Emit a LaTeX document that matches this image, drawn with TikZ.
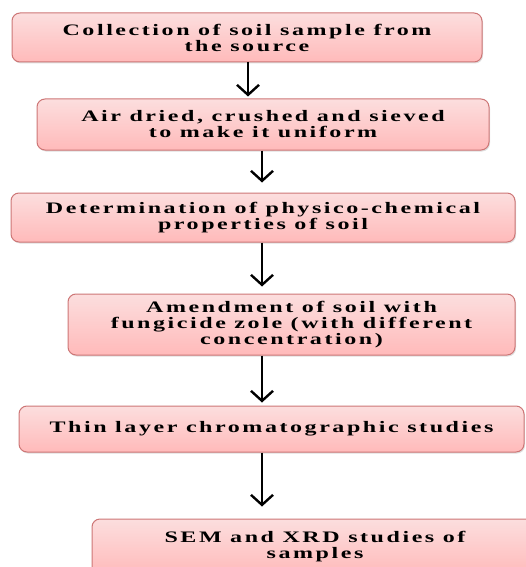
\documentclass[tikz,border=0pt]{standalone}
\usepackage{fontspec}
\setmainfont{Liberation Serif}[FakeStretch=1.5,LetterSpace=16]
\usetikzlibrary{arrows.meta,shadows}

\definecolor{boxtop}{RGB}{252,222,222}
\definecolor{boxbottom}{RGB}{255,186,186}
\definecolor{boxborder}{RGB}{205,118,118}

\tikzset{
  stepbox/.style={draw=boxborder, line width=1pt, rounded corners=8pt,
    top color=boxtop, bottom color=boxbottom,
    drop shadow={opacity=0.25, shadow xshift=1pt, shadow yshift=-1.5pt},
    align=center, inner sep=0pt,
    font=\fontsize{16}{16}\selectfont\bfseries},
  flowarrow/.style={line width=2.8pt, -{Straight Barb[length=10pt,width=22pt,line width=2.4pt]}}
}

\begin{document}
\begin{tikzpicture}[x=1pt,y=-1pt]
  \useasboundingbox (0,0) rectangle (526,567);
  \clip (0,0) rectangle (526,567);
  \node[stepbox, minimum width=470pt, minimum height=49pt] (collect) at (247,37.5)
    {Collection of soil sample from\\the source};
  \node[stepbox, minimum width=452pt, minimum height=51pt] (dry) at (263,124.5)
    {Air dried, crushed and sieved\\to make it uniform};
  \node[stepbox, minimum width=504pt, minimum height=49pt] (props) at (263,217.5)
    {Determination of physico-chemical\\properties of soil};
  \node[stepbox, minimum width=447pt, minimum height=61pt] (amend) at (291.5,324.5)
    {Amendment of soil with\\fungicide zole (with different\\concentration)};
  \node[stepbox, minimum width=505pt, minimum height=46pt] (tlc) at (271.5,429)
    {Thin layer chromatographic studies};
  \node[stepbox, minimum width=446pt, minimum height=56pt] (sem) at (315,547)
    {SEM and XRD studies of\\samples};

  \draw[flowarrow] ([xshift=1pt]collect.south) -- ([xshift=1pt,yshift=2pt]collect.south |- dry.north);
  \draw[flowarrow] ([xshift=-1pt]dry.south) -- ([xshift=-1pt,yshift=10pt]dry.south |- props.north);
  \draw[flowarrow] ([xshift=-1pt]props.south) -- ([xshift=-1pt,yshift=7pt]props.south |- amend.north);
  \draw[flowarrow] ([xshift=-29.5pt]amend.south) -- ([xshift=-29.5pt,yshift=3pt]amend.south |- tlc.north);
  \draw[flowarrow] ([xshift=-9.5pt]tlc.south) -- ([xshift=-9.5pt,yshift=12pt]tlc.south |- sem.north);
\end{tikzpicture}
\end{document}
